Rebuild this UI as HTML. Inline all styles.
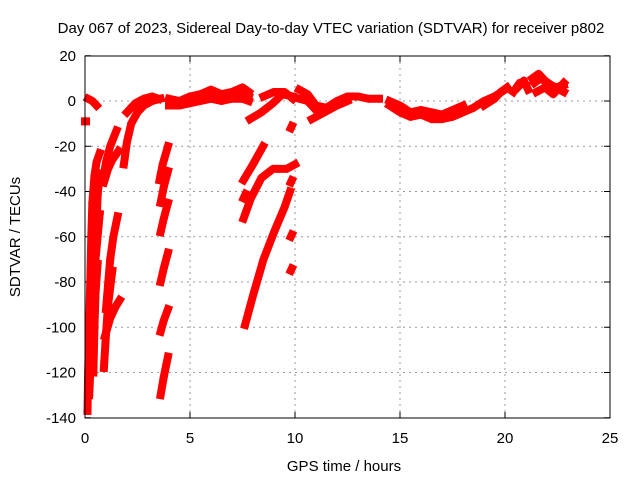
<!DOCTYPE html>
<html><head><meta charset="utf-8"><style>
body{margin:0;background:#fff}
svg{display:block;font-family:"Liberation Sans",sans-serif}
</style></head><body>
<svg id="chart" width="640" height="480">
<text x="331" y="33" font-size="15" text-anchor="middle">Day 067 of 2023, Sidereal Day-to-day VTEC variation (SDTVAR) for receiver p802</text>
<text x="344" y="471" font-size="15" text-anchor="middle">GPS time / hours</text>
<text x="20" y="237" font-size="15" text-anchor="middle" transform="rotate(-90 20 237)">SDTVAR / TECUs</text>
<g id="grid"></g><g id="ticks"></g><g id="marks"></g>
<rect x="85" y="56" width="525" height="362" fill="none" stroke="#000" stroke-width="1"/>
</svg>
<script>
const xTicks=[0,5,10,15,20,25];
const yTicks=[20,0,-20,-40,-60,-80,-100,-120,-140];
const segments=[
[[0,-9],[0.05,-9]],
[[0.15,1],[0.35,0],[0.55,-2]],
[[0.12,-137],[0.15,-120],[0.2,-100],[0.25,-80],[0.3,-60],[0.35,-45],[0.45,-33],[0.55,-27],[0.7,-23]],
[[0.2,-130],[0.3,-110],[0.35,-90],[0.45,-70],[0.55,-55],[0.6,-42],[0.7,-32]],
[[0.4,-120],[0.45,-100],[0.5,-85],[0.6,-72]],
[[0.3,-95],[0.4,-80],[0.5,-70],[0.6,-60],[0.7,-50]],
[[0.85,-36],[1.0,-27],[1.2,-20],[1.5,-13]],
[[0.9,-118],[1.0,-103],[1.1,-90],[1.3,-75]],
[[1.0,-92],[1.2,-70],[1.35,-60],[1.55,-51]],
[[0.95,-104],[1.2,-96],[1.45,-91],[1.65,-88]],
[[0.9,-36],[1.1,-30],[1.3,-26],[1.6,-22]],
[[1.85,-28],[2.0,-18],[2.2,-10],[2.5,-5],[2.8,-2],[3.2,0],[3.6,1]],
[[2.0,-5],[2.4,-1],[2.8,1],[3.2,2],[3.5,1]],
[[3.55,-35],[3.7,-28],[3.95,-20]],
[[3.6,-45],[3.75,-38],[3.95,-31]],
[[3.6,-58],[3.75,-52],[3.95,-45]],
[[3.6,-80],[3.75,-74],[3.95,-67]],
[[3.6,-102],[3.75,-97],[3.95,-92]],
[[3.6,-130],[3.75,-122],[3.95,-113]],
[[4.0,1],[4.5,0],[5.0,2],[5.5,3],[6.0,5],[6.5,3],[7.0,4],[7.5,6],[7.8,4]],
[[4.0,-1],[4.5,-1],[5.0,0],[5.5,1],[6.0,3],[6.5,1],[7.0,2],[7.5,3],[7.8,2]],
[[4.0,-2],[4.5,-2],[5.0,-1],[5.5,0],[6.0,1],[6.5,0],[7.0,1],[7.5,1],[7.8,0]],
[[7.62,-99],[8.0,-86],[8.5,-70],[9.0,-58],[9.5,-47],[9.76,-40]],
[[7.55,-52],[7.9,-43],[8.4,-34],[8.95,-30],[9.6,-30],[10.0,-28]],
[[7.55,-35],[8.0,-28],[8.48,-20]],
[[7.55,-43],[7.65,-41]],
[[7.86,-8],[8.4,-5],[8.95,-1],[9.4,3],[9.9,2]],
[[8.5,2],[9.0,4],[9.5,4],[9.9,1]],
[[9.8,-12],[9.85,-11]],[[9.8,-36],[9.85,-35]],[[9.8,-60],[9.85,-59]],[[9.8,-75],[9.85,-74]],
[[10.2,5],[10.6,3],[11.0,-2],[11.5,-3],[12.0,0],[12.5,2],[13.0,2],[13.5,1],[14.0,1]],
[[10.8,-8],[11.4,-5],[12.0,-2],[12.5,0]],
[[10.2,1],[10.6,0],[11.0,-4]],
[[14.5,-2],[15.0,-5],[15.5,-7],[16.0,-6],[16.5,-8],[17.0,-8],[17.5,-7],[18.0,-5],[18.5,-3],[19.0,0],[19.5,2],[20.0,5]],
[[14.5,0],[15.0,-2],[15.5,-5],[16.0,-4],[16.5,-5],[17.0,-6],[17.5,-4],[18.0,-2]],
[[19.0,-2],[19.5,1],[19.8,4],[20.1,6]],
[[20.4,4],[20.7,8],[21.0,7]],
[[20.6,6],[20.9,9],[21.1,5]],
[[21.3,10],[21.6,12],[21.9,9],[22.2,7],[22.6,5],[22.8,4]],
[[21.4,8],[21.7,10],[22.0,8],[22.4,6],[22.8,7]],
[[21.5,4],[21.9,6],[22.3,3],[22.8,8]]
];
const NS='http://www.w3.org/2000/svg';
const X=t=>85+t*21, Y=v=>101-v*2.2625;
const grid=document.getElementById('grid'),ticks=document.getElementById('ticks'),marks=document.getElementById('marks');
function mk(tag,attrs,parent){const e=document.createElementNS(NS,tag);for(const k in attrs)e.setAttribute(k,attrs[k]);parent.appendChild(e);return e;}
xTicks.forEach(t=>{
 if(t>0&&t<25){const g=mk('line',{x1:X(t),x2:X(t),y1:56,y2:418,stroke:'#999','stroke-dasharray':'2,4'},grid);
 
 }
 mk('line',{x1:X(t),x2:X(t),y1:418,y2:412,stroke:'#000'},ticks);
 mk('line',{x1:X(t),x2:X(t),y1:56,y2:62,stroke:'#000'},ticks);
 const l=mk('text',{x:X(t),y:443,'font-size':15,'text-anchor':'middle'},ticks);l.textContent=t;
 
 
});
yTicks.forEach(v=>{
 if(v<20&&v>-140){const g=mk('line',{x1:85,x2:610,y1:Y(v),y2:Y(v),stroke:'#999','stroke-dasharray':'2,4'},grid);
 
 }
 mk('line',{x1:85,x2:91,y1:Y(v),y2:Y(v),stroke:'#000'},ticks);
 mk('line',{x1:610,x2:604,y1:Y(v),y2:Y(v),stroke:'#000'},ticks);
 const l=mk('text',{x:76,y:Y(v)+5,'font-size':15,'text-anchor':'end'},ticks);l.textContent=v;
 
 
});
segments.forEach(seg=>{
 const pl=mk('polyline',{points:seg.map(p=>X(p[0])+','+Y(p[1])).join(' '),fill:'none',stroke:'#f00','stroke-width':8,'stroke-linejoin':'round','stroke-linecap':'square'},marks);
 
 
 seg.forEach(p=>{
  const x=X(p[0]),y=Y(p[1]);
  const m=mk('path',{d:`M${x-4},${y}H${x+4}M${x},${y-4}V${y+4}`,stroke:'#f00','stroke-width':1.5},marks);
  
  
 });
});
</script>
</body></html>
